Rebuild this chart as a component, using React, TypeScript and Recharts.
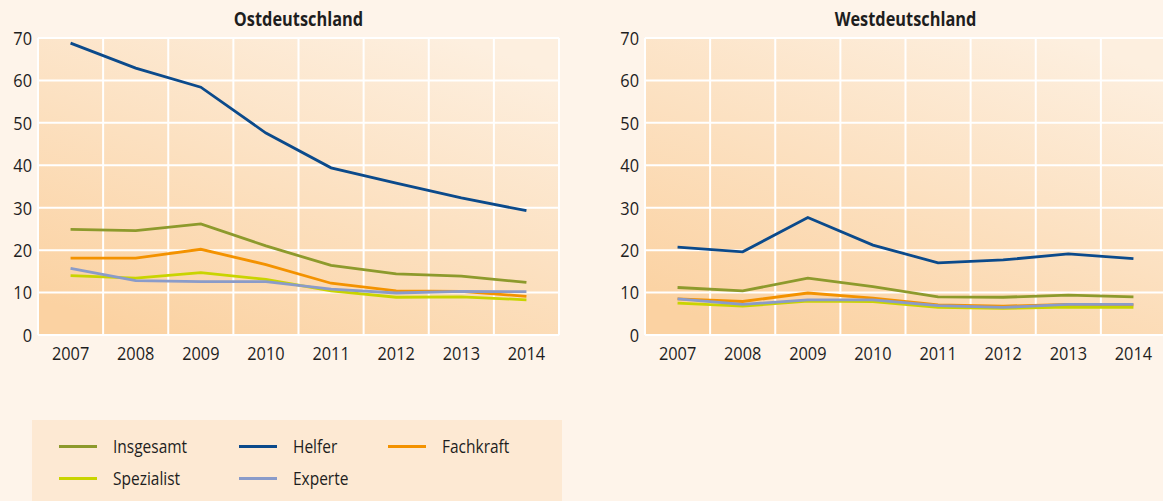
import React from 'react';
import { LineChart, Line, XAxis, YAxis, CartesianGrid } from 'recharts';

const years = ['2007', '2008', '2009', '2010', '2011', '2012', '2013', '2014'];
const yTicks = [0, 10, 20, 30, 40, 50, 60, 70];

const ostInsgesamt = [24.9, 24.6, 26.2, 21.0, 16.4, 14.4, 13.9, 12.4];
const ostHelfer = [68.8, 62.9, 58.4, 47.6, 39.4, 35.8, 32.3, 29.3];
const ostFachkraft = [18.1, 18.1, 20.2, 16.6, 12.2, 10.4, 10.3, 9.1];
const ostSpezialist = [14.0, 13.4, 14.7, 13.1, 10.4, 8.9, 9.0, 8.3];
const ostExperte = [15.7, 12.8, 12.6, 12.6, 10.8, 9.9, 10.3, 10.2];

const westInsgesamt = [11.2, 10.4, 13.4, 11.4, 9.0, 8.9, 9.4, 9.0];
const westHelfer = [20.7, 19.6, 27.7, 21.2, 17.0, 17.7, 19.1, 18.0];
const westFachkraft = [8.5, 7.9, 9.9, 8.7, 7.1, 6.8, 7.2, 7.1];
const westSpezialist = [7.5, 6.8, 8.0, 7.9, 6.5, 6.3, 6.6, 6.5];
const westExperte = [8.5, 7.2, 8.3, 8.3, 6.9, 6.5, 7.2, 7.2];

const seriesNames = ['Insgesamt', 'Helfer', 'Fachkraft', 'Spezialist', 'Experte'];
const seriesColors = ['#8d9a2c', '#0b4a8b', '#f39200', '#c9d400', '#8a9bc9'];

const FONT = '"Open Sans", "Noto Sans", sans-serif';
const TEXT = '#1e1e1e';
const SQUEEZE = 0.86;

function buildRows(cols: number[][]) {
  return years.map((y, i) => {
    const row: Record<string, string | number> = { year: y };
    seriesNames.forEach((n, k) => {
      row[n] = cols[k][i];
    });
    return row;
  });
}

const ostRows = buildRows([ostInsgesamt, ostHelfer, ostFachkraft, ostSpezialist, ostExperte]);
const westRows = buildRows([westInsgesamt, westHelfer, westFachkraft, westSpezialist, westExperte]);

const bandGrid = ({ offset }: any) =>
  Array.from({ length: years.length + 1 }, (_, i) => offset.left + (i * offset.width) / years.length);

const XTick = (props: any) => {
  const { x, y, payload } = props;
  return (
    <g transform={`translate(${x},${y}) scale(${SQUEEZE},1)`}>
      <text x={0} y={0} dy="0.71em" textAnchor="middle" fill={TEXT} fontSize={19} fontFamily={FONT}>
        {payload.value}
      </text>
    </g>
  );
};

const YTick = (props: any) => {
  const { x, y, payload } = props;
  return (
    <g transform={`translate(${x},${y}) scale(${SQUEEZE},1)`}>
      <text x={0} y={0} dy="0.36em" textAnchor="end" fill={TEXT} fontSize={19} fontFamily={FONT}>
        {payload.value}
      </text>
    </g>
  );
};

const PLOT_W = 521;
const HALF_BAND = PLOT_W / years.length / 2;

function Panel({ id, rows, yAxisWidth, marginRight }: { id: string; rows: any[]; yAxisWidth: number; marginRight: number }) {
  return (
    <LineChart
      width={580}
      height={380}
      data={rows}
      margin={{ top: 38, right: marginRight, bottom: 0, left: 0 }}
    >
      <defs>
        <linearGradient id={id} x1="0.2" y1="1" x2="0.8" y2="0">
          <stop offset="0%" stopColor="#fbd2a2" />
          <stop offset="100%" stopColor="#fdefdf" />
        </linearGradient>
      </defs>
      <CartesianGrid
        stroke="#ffffff"
        strokeWidth={2}
        fill={`url(#${id})`}
        fillOpacity={1}
        verticalCoordinatesGenerator={bandGrid}
      />
      <XAxis
        dataKey="year"
        type="category"
        interval={0}
        height={45}
        padding={{ left: HALF_BAND, right: HALF_BAND }}
        tickLine={false}
        axisLine={false}
        tickSize={0}
        tickMargin={11}
        tick={<XTick />}
      />
      <YAxis
        type="number"
        domain={[0, 70]}
        ticks={yTicks}
        width={yAxisWidth}
        tickLine={false}
        axisLine={false}
        tickSize={0}
        tickMargin={6}
        tick={<YTick />}
      />
      {seriesNames.map((n, k) => (
        <Line
          key={n}
          dataKey={n}
          stroke={seriesColors[k]}
          strokeWidth={2.8}
          dot={false}
          activeDot={false}
          type="linear"
          isAnimationActive={false}
        />
      ))}
    </LineChart>
  );
}

const legendCols = [59, 239, 388];

const titleStyle: React.CSSProperties = {
  position: 'absolute',
  width: PLOT_W,
  top: 7,
  textAlign: 'center',
  fontWeight: 'bold',
  fontSize: 19,
  lineHeight: '24px',
  transform: `scaleX(${SQUEEZE})`,
  transformOrigin: 'center',
};

export default function App() {
  return (
    <div
      style={{
        position: 'absolute',
        left: 0,
        top: 0,
        width: 1163,
        height: 501,
        background: '#fef4ea',
        overflow: 'hidden',
        fontFamily: FONT,
        color: TEXT,
      }}
    >
      <div style={{ position: 'absolute', left: 0, top: 0 }}>
        <Panel id="gOst" rows={ostRows} yAxisWidth={38} marginRight={21} />
      </div>
      <div style={{ position: 'absolute', left: 590, top: 0 }}>
        <Panel id="gWest" rows={westRows} yAxisWidth={55} marginRight={4} />
      </div>
      <div style={{ ...titleStyle, left: 38 }}>Ostdeutschland</div>
      <div style={{ ...titleStyle, left: 645 }}>Westdeutschland</div>
      <div
        style={{
          position: 'absolute',
          left: 32,
          top: 420,
          width: 530,
          height: 90,
          background: '#fde9d3',
        }}
      >
        {seriesNames.map((n, k) => {
          const col = k % 3;
          const row = Math.floor(k / 3);
          const left = legendCols[col] - 32;
          const top = 26 + row * 32;
          return (
            <div key={n} style={{ position: 'absolute', left, top: top - 12, height: 24, display: 'flex', alignItems: 'center' }}>
              <div style={{ width: 38, height: 3, background: seriesColors[k] }} />
              <div
                style={{
                  marginLeft: 16,
                  fontSize: 18,
                  lineHeight: '24px',
                  whiteSpace: 'nowrap',
                  transform: `scaleX(${SQUEEZE})`,
                  transformOrigin: 'left center',
                }}
              >
                {n}
              </div>
            </div>
          );
        })}
      </div>
    </div>
  );
}
